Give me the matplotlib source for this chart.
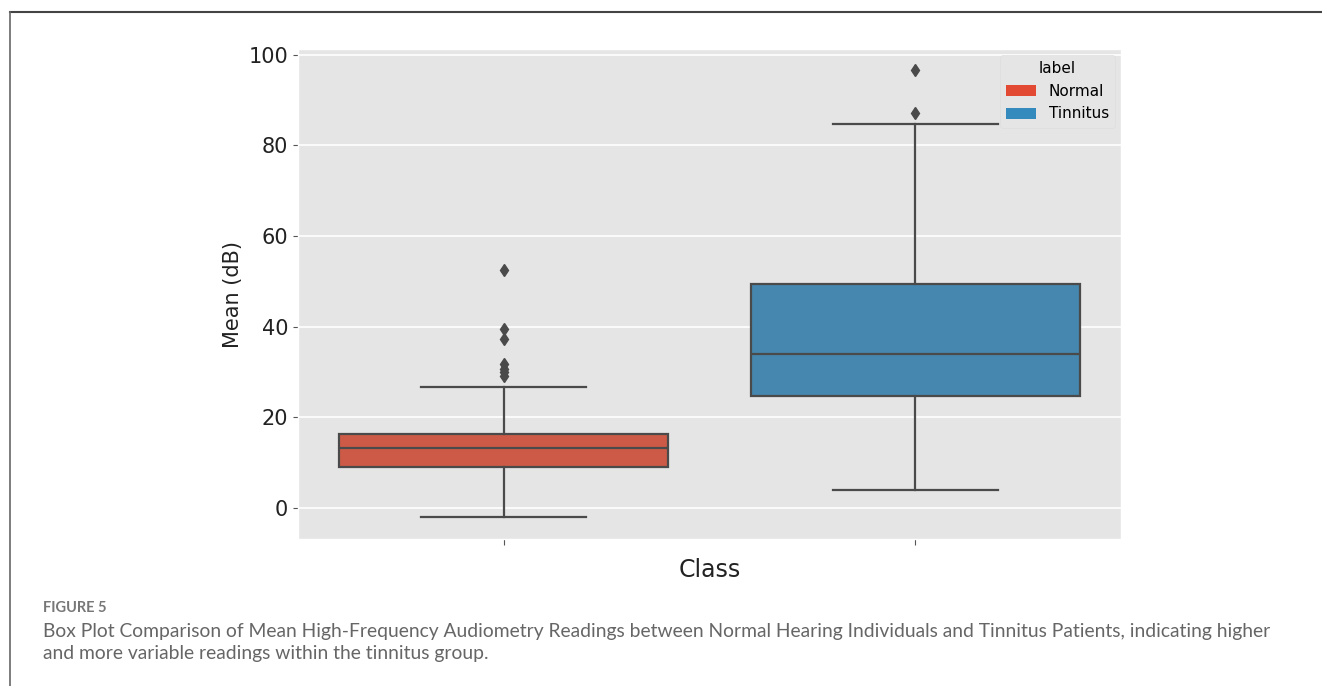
import matplotlib
matplotlib.use("Agg")
import matplotlib.pyplot as plt
from matplotlib.patches import Patch
from matplotlib.lines import Line2D

## 박스플롯 요약값
classes = ['Normal', 'Tinnitus']
q1 = [9.0, 24.7]
median = [13.2, 34.0]
q3 = [16.3, 49.5]
whisker_low = [-2.0, 4.0]
whisker_high = [26.7, 84.8]
fliers = [[52.5, 39.5, 37.3, 31.8, 30.6, 29.9, 29.2],
          [87.1, 96.7]]

caption_head = 'FIGURE 5'
caption_lines = ['Box Plot Comparison of Mean High-Frequency Audiometry Readings between Normal Hearing Individuals and Tinnitus Patients, indicating higher',
                 'and more variable readings within the tinnitus group.']

## 스타일
plt.style.use('ggplot')
legend_colors = ['#E24A33', '#348ABD']
box_colors = ['#CD5A47', '#4587AE']
line_gray = '#4a4a4a'

fig = plt.figure(figsize=(13.22, 6.86), dpi=100)
ax = fig.add_axes([298 / 1322, 1 - 539 / 686, (1121 - 298) / 1322, (539 - 49) / 686])

stats = []
for i in range(len(classes)):
    stats.append({'q1': q1[i], 'med': median[i], 'q3': q3[i],
                  'whislo': whisker_low[i], 'whishi': whisker_high[i],
                  'fliers': fliers[i], 'label': ''})

bp = ax.bxp(stats, positions=range(len(classes)), widths=0.8, patch_artist=True,
            boxprops=dict(edgecolor=line_gray, linewidth=1.6),
            medianprops=dict(color=line_gray, linewidth=1.6),
            whiskerprops=dict(color=line_gray, linewidth=1.6),
            capprops=dict(color=line_gray, linewidth=1.6),
            flierprops=dict(marker='d', markerfacecolor=line_gray, markeredgecolor=line_gray,
                            markersize=6, linestyle='none'),
            capwidths=0.4)
for patch, c in zip(bp['boxes'], box_colors):
    patch.set_facecolor(c)

ax.set_xlim(-0.5, 1.5)
ax.set_ylim(-6.9, 101.3)
ax.set_yticks([0, 20, 40, 60, 80, 100])
ax.set_xticks(range(len(classes)))
ax.set_xticklabels(['', ''])
ax.tick_params(axis='y', labelsize=15, labelcolor='#222222', color='#555555')
ax.tick_params(axis='x', color='#555555', length=4)
ax.set_ylabel('Mean (dB)', fontsize=15, color='#222222')
ax.set_xlabel('Class', fontsize=17, color='#222222', labelpad=6)
ax.grid(axis='x', visible=False)
ax.grid(axis='y', color='white', linewidth=1.2)

handles = [Patch(facecolor=c, edgecolor='none') for c in legend_colors]
leg = ax.legend(handles, classes, title='label', loc='upper right', fontsize=11,
                title_fontsize=11, frameon=True, borderaxespad=0.4)
leg.get_frame().set_facecolor('#E5E5E5')
leg.get_frame().set_edgecolor('#dcdcdc')

## 그림 테두리와 캡션
fig.add_artist(Line2D([10 / 1322, 1], [1 - 12 / 686, 1 - 12 / 686], color='#444444', linewidth=1.5))
fig.add_artist(Line2D([10 / 1322, 10 / 1322], [0, 1 - 12 / 686], color='#666666', linewidth=1.2))

fig.text(43 / 1322, 1 - 608 / 686, caption_head, fontsize=10.5, color='#777777',
         family='Lato', fontweight='bold', va='center')
for y, line in zip([632, 653], caption_lines):
    fig.text(43 / 1322, 1 - y / 686, line, fontsize=13.9, color='#666666',
             family='Lato', va='center')

fig.savefig('out.png', dpi=100)
